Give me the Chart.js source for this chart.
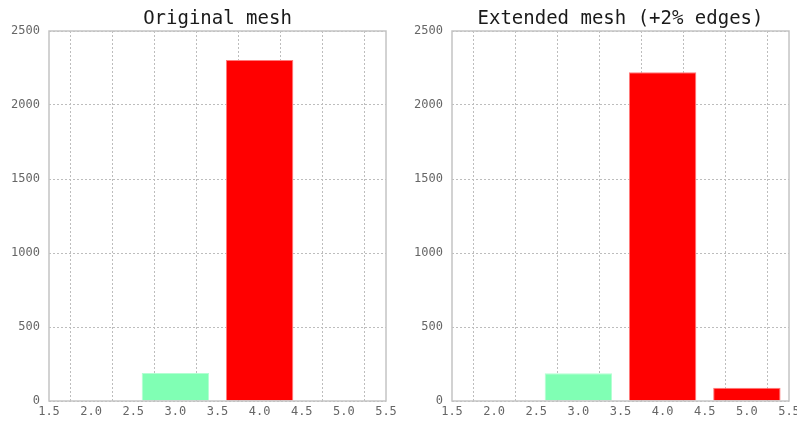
<!DOCTYPE html>
<html>
<head>
<meta charset="utf-8">
<script src="https://cdn.jsdelivr.net/npm/chart.js@4/dist/chart.umd.min.js"></script>
<style>
  html, body { margin: 0; padding: 0; background: #fff; }
  body { width: 797px; height: 421px; position: relative; overflow: hidden; }
  .panel { position: absolute; top: 0; height: 421px; }
  #left { left: 0; width: 398px; }
  #right { left: 400px; width: 397px; }
</style>
</head>
<body>
<div class="panel" id="left"><canvas id="c1"></canvas></div>
<div class="panel" id="right"><canvas id="c2"></canvas></div>
<script>
// Histogram of vertex valence, before and after extending the mesh
const valenceOriginal = [3, 4];
const countsOriginal = [190, 2304];
const valenceExtended = [3, 4, 5];
const countsExtended = [188, 2222, 89];
const titles = ['Original mesh', 'Extended mesh (+2% edges)'];
const xTickStep = 0.5;
const yTickStep = 500;

const FONT = "'DejaVu Sans Mono', monospace";
const GREEN = '#80ffb4';
const RED = '#ff0000';
const GRID = '#bdbdbd';

function barColor(v) { return v === 3 ? GREEN : RED; }
function edgeColor(v) { return v === 3 ? '#b3ffd2' : '#ff7a7a'; }

// plot frame drawn on all four sides
const framePlugin = {
  id: 'frame',
  afterDraw(chart) {
    const a = chart.chartArea, ctx = chart.ctx;
    ctx.save();
    ctx.strokeStyle = '#c4c4c4';
    ctx.lineWidth = 1.5;
    ctx.strokeRect(a.left, a.top, a.right - a.left, a.bottom - a.top);
    ctx.restore();
  }
};

function makeChart(id, xs, ys, title, yAxisWidth, padRight) {
  const data = xs.map((x, i) => ({ x: x, y: ys[i] }));
  return new Chart(document.getElementById(id), {
    type: 'bar',
    data: {
      datasets: [{
        data: data,
        backgroundColor: xs.map(barColor),
        borderColor: xs.map(edgeColor),
        borderWidth: 1,
        categoryPercentage: 1,
        // the sample spacing is taken from the 0.5 tick step, so 1.6 gives bars 0.8 units wide
        barPercentage: 1.6
      }]
    },
    options: {
      responsive: true,
      maintainAspectRatio: false,
      animation: false,
      layout: { padding: { left: 0, right: padRight, top: 0, bottom: 0 } },
      plugins: {
        legend: { display: false },
        tooltip: { enabled: false },
        title: {
          display: true,
          text: title,
          fullSize: false,
          color: '#1a1a1a',
          font: { family: FONT, size: 19, weight: 'normal', lineHeight: 1.2 },
          padding: { top: 8, bottom: 0.2 }
        }
      },
      scales: {
        x: {
          type: 'linear',
          offset: false,
          min: 1.5,
          max: 5.5,
          afterFit(s) { s.height = 20; s.paddingLeft = 0; s.paddingRight = 0; },
          ticks: {
            stepSize: xTickStep,
            maxRotation: 0,
            autoSkip: false,
            padding: 4,
            color: '#666',
            font: { family: FONT, size: 12 },
            callback: v => Number(v).toFixed(1)
          },
          grid: { color: GRID, lineWidth: 1, drawTicks: false },
          border: { display: false, dash: [2, 2] }
        },
        y: {
          min: 0,
          max: 2500,
          afterFit(s) { s.width = yAxisWidth; s.paddingTop = 0; s.paddingBottom = 0; },
          ticks: {
            stepSize: yTickStep,
            padding: 9,
            color: '#666',
            font: { family: FONT, size: 12 },
            callback: v => String(v)
          },
          grid: { color: GRID, lineWidth: 1, drawTicks: false },
          border: { display: false, dash: [2, 2] }
        }
      }
    },
    plugins: [framePlugin]
  });
}

makeChart('c1', valenceOriginal, countsOriginal, titles[0], 49, 12);
makeChart('c2', valenceExtended, countsExtended, titles[1], 52, 8);
</script>
</body>
</html>
